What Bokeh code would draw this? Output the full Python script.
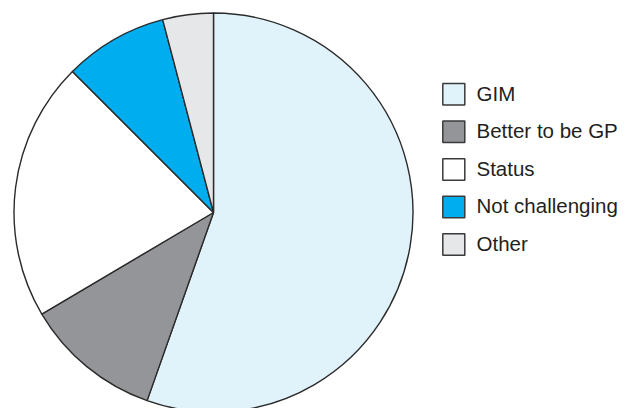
import numpy as np
from bokeh.plotting import figure
from bokeh.models import Range1d, ColumnDataSource
from bokeh.core.properties import value
from bokeh.embed import file_html
from bokeh.resources import INLINE

# Data
categories = ["GIM", "Better to be GP", "Status", "Not challenging", "Other"]
shares = [55.4, 11.1, 21.0, 8.4, 4.1]
colors = ["#e0f3fb", "#939598", "#ffffff", "#00aeef", "#e6e7e8"]

W, H = 629, 408
p = figure(width=W, height=H, output_backend="svg", toolbar_location=None,
           x_range=Range1d(0, W), y_range=Range1d(0, H), min_border=0)
p.axis.visible = False
p.grid.visible = False
p.outline_line_color = None
p.background_fill_color = "white"
p.border_fill_color = "white"

# Pie geometry (clockwise from 12 o'clock); page coords -> y flipped
cx, cy, r = 213, H - 212, 199.5
vals = np.array(shares, dtype=float)
frac = vals / vals.sum()
cum = np.concatenate([[0], np.cumsum(frac)])
start = np.pi / 2 - 2 * np.pi * cum[1:]
end = np.pi / 2 - 2 * np.pi * cum[:-1]

src = ColumnDataSource(dict(start=start, end=end, color=colors, cat=categories))
p.wedge(x=cx, y=cy, radius=r, start_angle="start", end_angle="end",
        fill_color="color", line_color="#2b2b2b", line_width=1.4, source=src)

# Legend (manual)
n = len(categories)
row_y = [H - (93.8 + 37.55 * i) for i in range(n)]
box_x = [453.3] * n
lsrc = ColumnDataSource(dict(x=box_x, y=row_y, color=colors, cat=categories,
                             tx=[476] * n, ty=[yy + 1.0 for yy in row_y]))
p.rect(x="x", y="y", width=22, height=21.5, fill_color="color",
       line_color="#3a3a3a", line_width=1.5, source=lsrc)
p.text(x="tx", y="ty", text="cat", text_font=value("Liberation Sans"),
       text_font_size="20.5px", text_color="#231f20", text_baseline="alphabetic",
       text_align="left", source=lsrc)

open("out.html", "w").write(file_html(p, INLINE))
